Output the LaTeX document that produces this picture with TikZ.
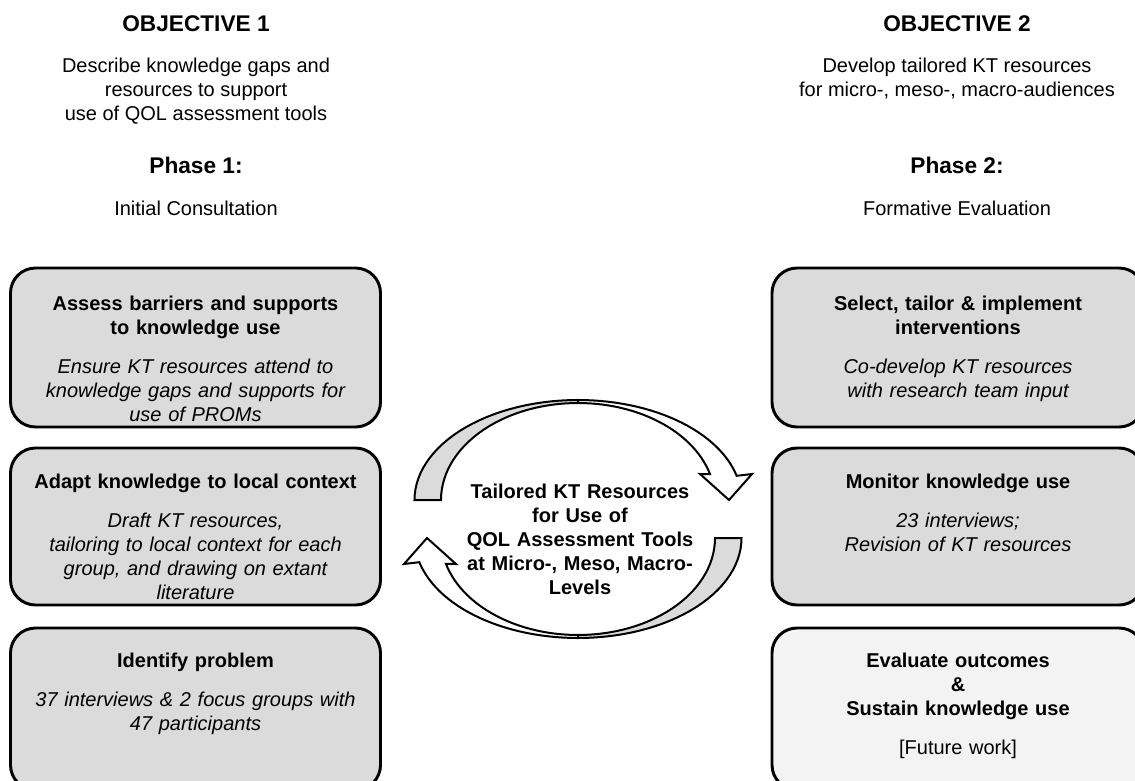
\documentclass[tikz,border=0pt]{standalone}
\usepackage{fontspec}
\setmainfont{Liberation Sans}
\usetikzlibrary{positioning}

\definecolor{stagegray}{RGB}{218,219,218}
\definecolor{futuregray}{RGB}{242,243,242}

\tikzset{
  stagebox/.style={draw, line width=2.2pt, rounded corners=18.75pt, fill=stagegray,
    minimum width=277.5pt, inner sep=0pt},
  stagetext/.style={text width=270pt, align=center, inner sep=0pt,
    font=\fontsize{15}{18}\selectfont},
  headtitle/.style={font=\fontsize{17}{20}\selectfont\bfseries, inner sep=0pt},
  headtext/.style={align=center, font=\fontsize{15}{18}\selectfont, inner sep=0pt},
  loopback/.style={draw, line width=1.5pt, line join=miter, fill=stagegray},
  loopfront/.style={draw, line width=1.5pt, line join=miter, fill=white},
}

\begin{document}
\begin{tikzpicture}[x=0.75pt,y=-0.75pt]
    \useasboundingbox (0,0) rectangle (1135,781);

    % Headers, objective 1
    \node[headtitle] (obj1) at (196,24) {OBJECTIVE 1};
    \node[headtext] (obj1text) at (196,91) {Describe knowledge gaps and\\resources to support\\use of QOL assessment tools};
    \node[headtitle] (phase1) at (196,165) {Phase 1:};
    \node[headtext] (phase1text) at (196,208) {Initial Consultation};
    % Headers, objective 2
    \node[headtitle] (obj2) at (957,24) {OBJECTIVE 2};
    \node[headtext] (obj2text) at (957,79) {Develop tailored KT resources\\for micro-, meso-, macro-audiences};
    \node[headtitle] (phase2) at (957,165) {Phase 2:};
    \node[headtext] (phase2text) at (957,208) {Formative Evaluation};

    % Phase 1 boxes
    \node[stagebox, minimum height=119.25pt] (lb1) at (195.5,347.5) {};
    \node[stagebox, minimum height=117.75pt] (lb2) at (195.5,526.5) {};
    \node[stagebox, minimum height=121.5pt] (lb3) at (195.5,709) {};
    \node[stagetext, below=21.8pt of lb1.north] (lt1) {{\bfseries Assess barriers and supports\\to knowledge use}\\[11.25pt]
      {\itshape Ensure KT resources attend to\\knowledge gaps and supports for\\use of PROMs}};
    \node[stagetext, below=20.3pt of lb2.north] (lt2) {{\bfseries Adapt knowledge to local context}\\[11.25pt]
      {\itshape Draft KT resources,\\tailoring to local context for each\\group, and drawing on extant\\literature}};
    \node[stagetext, below=19.5pt of lb3.north] (lt3) {{\bfseries Identify problem}\\[11.25pt]
      {\itshape 37 interviews \& 2 focus groups with\\47 participants}};

    % Phase 2 boxes
    \node[stagebox, minimum width=279pt, minimum height=119.25pt] (rb1) at (958,347.5) {};
    \node[stagebox, minimum width=279pt, minimum height=117.75pt] (rb2) at (958,526.5) {};
    \node[stagebox, minimum width=279pt, minimum height=121.5pt, fill=futuregray] (rb3) at (958,709) {};
    \node[stagetext, below=21.8pt of rb1.north] (rt1) {{\bfseries Select, tailor \& implement\\interventions}\\[11.25pt]
      {\itshape Co-develop KT resources\\with research team input}};
    \node[stagetext, below=20.3pt of rb2.north] (rt2) {{\bfseries Monitor knowledge use}\\[11.25pt]
      {\itshape 23 interviews;\\Revision of KT resources}};
    \node[stagetext, below=19.5pt of rb3.north] (rt3) {{\bfseries Evaluate outcomes\\\&\\Sustain knowledge use}\\[11.25pt]
      [Future work]};

    % Curved arrows round the centre
    \foreach \rot in {0,180}{
      \begin{scope}[rotate around={\rot:(578,519)}]
        \path[loopback] plot[domain=180:270, samples=30] ({578+163.5*cos(\x)},{500+100*sin(\x)})
          -- plot[domain=270:180, samples=30] ({578+137*cos(\x)},{500+97*sin(\x)}) -- cycle;
        \path[loopfront] plot[domain=270:346, samples=30] ({578+163.5*cos(\x)},{500+100*sin(\x)})
          -- (752,474) -- (729,500) -- (700,474)
          -- plot[domain=344.5:270, samples=30] ({578+137*cos(\x)},{500+97*sin(\x)}) -- cycle;
      \end{scope}
    }
    \node[stagetext, text width=200pt, font=\fontsize{15}{18}\selectfont\bfseries] (core) at (580,539)
      {Tailored KT Resources\\for Use of\\QOL Assessment Tools\\at Micro-, Meso, Macro-\\Levels};

\end{tikzpicture}
\end{document}
